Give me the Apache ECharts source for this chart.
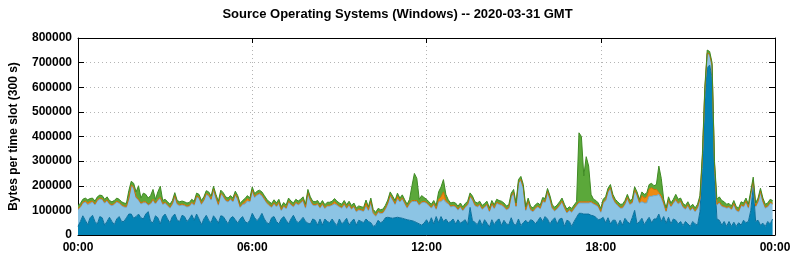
<!DOCTYPE html>
<html>
<head>
<meta charset="utf-8">
<script src="https://cdn.jsdelivr.net/npm/echarts@6/dist/echarts.min.js"></script>
<style>
  html, body { margin: 0; padding: 0; background: #fff; }
  #chart { width: 795px; height: 260px; }
</style>
</head>
<body>
<div id="chart"></div>
<script>
'use strict';
// 288 slots of 300 s, values in kB per slot (stack order bottom -> top)
const slotsPerTick = 72; // 6 h
const xTicks = ['00:00', '06:00', '12:00', '18:00', '00:00'];

const darkBlue = [
  35,55,78,60,42,70,80,55,45,75,70,40,55,72,55,42,65,75,55,55,70,85,85,68,
  75,85,70,65,85,95,55,50,78,70,45,75,85,65,50,75,85,60,55,80,75,55,65,82,
  60,85,65,42,65,80,60,50,78,65,48,78,75,60,45,68,75,62,48,65,75,55,48,60,
  88,70,58,70,88,65,50,45,70,75,55,45,65,75,60,45,65,80,60,50,60,72,55,48,
  45,65,60,40,65,40,65,55,50,65,50,38,65,45,55,68,40,55,65,40,60,55,50,65,
  55,50,35,40,60,50,55,70,72,70,68,70,72,70,68,65,62,60,58,55,50,45,40,48,
  62,45,70,45,75,50,75,55,65,50,55,65,45,62,48,55,62,42,112,58,52,42,62,38,
  62,48,32,62,42,58,65,38,60,45,42,70,45,40,65,38,50,60,48,62,58,45,58,72,
  55,75,65,45,60,70,45,65,68,35,60,55,35,55,72,88,88,85,85,85,80,78,72,62,
  65,72,50,70,45,60,60,38,60,40,68,55,45,70,100,45,55,68,42,58,72,50,65,65,
  85,55,75,48,72,45,65,60,45,55,38,55,45,35,55,45,40,95,270,540,680,690,640,250,
  65,60,40,55,35,55,35,52,35,50,40,60,50,55,100,195,55,60,40,48,35,55,45,65
];
const lightBlue = [
  69,57,51,74,81,58,54,67,94,71,74,89,84,52,64,82,69,54,64,59,42,61,114,123,
  76,56,56,66,46,26,71,91,48,71,104,49,44,54,59,49,71,64,64,42,44,59,51,47,
  61,69,84,82,74,84,99,92,104,84,73,88,81,79,89,76,59,100,96,47,49,71,90,74,
  91,82,104,96,71,79,79,74,42,52,59,84,34,41,46,89,57,34,69,72,69,67,54,121,
  94,56,59,84,44,84,42,62,67,56,76,83,49,64,69,39,81,49,49,54,42,44,46,50,
  44,84,52,36,32,37,34,34,54,89,74,54,74,64,79,62,47,66,78,81,86,76,91,85,
  67,74,39,79,29,85,60,90,67,77,59,52,69,39,66,43,50,79,43,84,67,72,59,66,
  50,73,62,62,65,71,59,83,54,57,65,84,124,74,144,184,139,39,86,39,36,62,56,34,
  81,57,108,99,46,27,61,54,66,74,29,44,57,51,47,42,42,45,45,45,52,48,49,52,
  27,57,89,104,144,89,69,81,49,69,56,94,79,59,80,114,74,67,88,72,85,107,95,95,
  80,95,51,46,64,69,64,81,81,79,74,49,74,64,54,49,69,49,40,45,55,40,45,35,
  56,71,76,58,74,57,67,72,64,44,79,54,84,54,64,24,59,74,134,86,74,59,84,59
];
const orange = [
  4,4,4,4,8,8,4,4,4,4,4,4,4,4,4,4,4,4,4,4,4,4,4,4,
  4,4,4,4,4,4,4,4,4,4,4,4,4,4,4,4,4,4,4,4,4,4,4,4,
  4,4,4,4,4,4,4,4,4,4,4,4,4,4,4,4,4,4,4,4,4,10,10,4,
  4,4,4,4,4,4,4,4,4,4,4,4,4,4,4,4,4,4,4,4,4,4,4,4,
  4,4,4,4,4,4,4,4,4,4,10,4,4,4,4,4,4,4,4,4,4,4,4,15,
  4,4,4,4,4,4,4,4,4,4,4,4,12,4,4,4,4,4,4,4,4,4,4,4,
  4,4,4,4,4,10,20,30,8,4,4,4,4,4,4,4,4,4,4,4,4,4,4,4,
  4,4,4,4,4,4,4,4,4,4,4,4,4,4,4,4,4,4,4,4,4,4,4,4,
  4,4,4,4,4,4,4,4,4,4,4,4,4,4,4,5,5,5,5,5,4,4,4,4,
  4,4,4,4,4,4,4,4,4,4,4,4,4,4,4,4,4,25,20,25,30,35,25,25,
  8,10,4,4,4,4,4,4,4,4,4,4,4,4,4,4,4,4,4,4,5,4,4,4,
  4,4,4,4,4,4,4,4,4,4,4,4,4,4,4,4,4,4,4,4,4,4,4,4
];
const green = [
  12,12,12,12,12,12,12,12,12,12,12,12,12,12,12,12,12,12,12,12,12,30,15,15,
  20,55,20,35,30,25,30,40,15,30,45,12,12,12,12,12,12,12,12,12,12,12,12,12,
  12,12,12,12,12,12,12,12,12,12,12,12,12,12,12,12,12,12,12,12,12,12,12,12,
  12,12,12,12,12,12,12,12,12,12,12,12,12,12,12,12,12,12,12,12,12,12,12,12,
  12,12,12,12,12,12,12,12,12,12,12,12,12,12,12,12,12,12,12,12,12,12,12,12,
  12,12,12,12,12,12,12,12,12,12,12,12,12,12,12,12,12,15,60,110,90,20,25,15,
  12,12,12,12,12,30,40,50,25,12,12,12,12,12,12,12,12,12,12,12,12,12,12,12,
  12,12,12,12,12,12,12,12,12,12,12,12,12,12,12,12,12,12,12,12,12,12,12,12,
  12,12,12,12,12,12,12,12,12,12,12,12,12,12,12,280,265,105,183,145,29,15,15,12,
  12,12,12,12,12,12,12,12,12,12,12,12,12,12,12,12,12,15,15,15,18,18,15,20,
  107,70,15,12,15,12,12,20,15,12,12,12,12,12,12,12,12,12,16,11,11,11,11,11,
  20,20,20,18,12,12,12,12,12,12,12,12,12,12,12,12,12,12,12,12,12,12,12,12
];

const layers = [
  { name: 'dark', values: darkBlue, area: '#0383b5', line: '#0a6f9c' },
  { name: 'light', values: lightBlue, area: '#8cc4e4', line: '#6aa6c8' },
  { name: 'orange', values: orange, area: '#ec8a12', line: '#cc6f00' },
  { name: 'green', values: green, area: '#5ba83a', line: '#3f8a24' },
];

// one category per slot boundary: 0 .. 288 (00:00 .. 24:00)
const slots = Array.from({ length: darkBlue.length + 1 }, (_, i) => String(i));

const bold = { fontFamily: 'Liberation Sans, Arial, sans-serif', fontWeight: 'bold', fontSize: 12, color: '#000' };
const dotted = { show: true, interval: slotsPerTick - 1, lineStyle: { color: '#b4b4b4', type: [1, 3], width: 1 } };
const black = { show: true, onZero: false, lineStyle: { color: '#000', width: 1 } };
const xTick = { show: true, inside: true, length: 5, interval: slotsPerTick - 1, lineStyle: { color: '#000' } };
const yTick = { show: true, inside: true, length: 6, lineStyle: { color: '#000' } };

const chart = echarts.init(document.getElementById('chart'), null, { renderer: 'canvas' });
chart.setOption({
  animation: false,
  backgroundColor: '#fff',
  title: {
    text: 'Source Operating Systems (Windows) -- 2020-03-31 GMT',
    left: 'center', top: 3,
    textStyle: { ...bold, fontSize: 13 },
  },
  grid: { left: 75, right: 20, top: 38, bottom: 25 },
  xAxis: [
    {
      type: 'category', data: slots, boundaryGap: false, position: 'bottom',
      axisLine: black, axisTick: xTick,
      axisLabel: { ...bold, margin: 7, interval: slotsPerTick - 1, formatter: (v, i) => xTicks[i / slotsPerTick] },
      splitLine: dotted,
    },
    {
      type: 'category', data: slots, boundaryGap: false, position: 'top',
      axisLine: black, axisTick: xTick,
      axisLabel: { show: false }, splitLine: { show: false },
    },
  ],
  yAxis: [
    {
      type: 'value', min: 0, max: 800000, interval: 100000, position: 'left',
      name: 'Bytes per time slot (300 s)', nameLocation: 'middle', nameGap: 58, nameRotate: 90,
      nameTextStyle: { ...bold },
      axisLine: black, axisTick: yTick,
      axisLabel: { ...bold, margin: 6, formatter: (v) => String(v) },
      splitLine: { show: true, lineStyle: { color: '#b4b4b4', type: [1, 3], width: 1 } },
    },
    {
      type: 'value', min: 0, max: 800000, interval: 100000, position: 'right',
      axisLine: black, axisTick: yTick,
      axisLabel: { show: false }, splitLine: { show: false },
    },
  ],
  series: layers.map((l) => ({
    name: l.name, type: 'line', stack: 'total', symbol: 'none', smooth: false,
    xAxisIndex: 0, yAxisIndex: 0,
    lineStyle: { color: l.line, width: 1 },
    areaStyle: { color: l.area, opacity: 1 },
    data: l.values.map((v) => v * 1000),
  })),
});
</script>
</body>
</html>
